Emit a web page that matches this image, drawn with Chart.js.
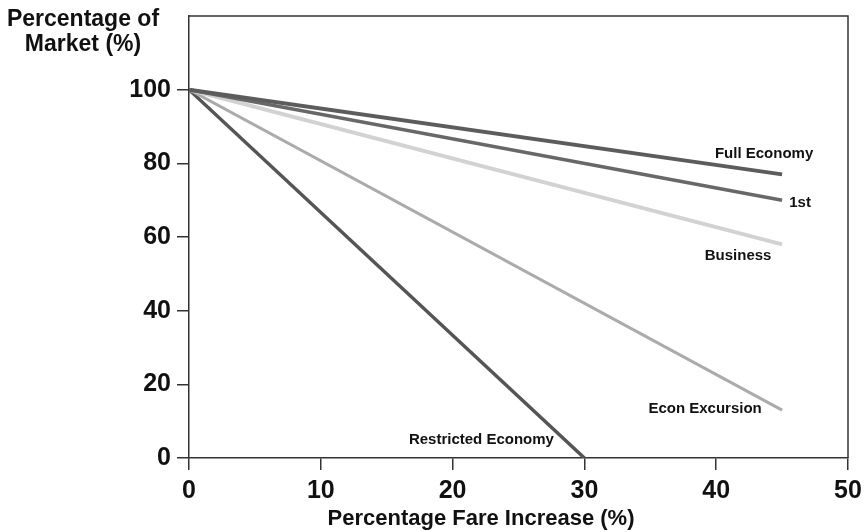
<!DOCTYPE html>
<html>
<head>
<meta charset="utf-8">
<script src="https://cdn.jsdelivr.net/npm/chart.js@4/dist/chart.umd.min.js"></script>
<style>
  html, body { margin:0; padding:0; background:#fff; }
  #wrap { width:864px; height:532px; position:relative; }
</style>
</head>
<body>
<div id="wrap"><canvas id="linegraph" width="864" height="532"></canvas></div>
<script>
// fare increase (%) at the ends of each line
var fareIncrease = [0, 45];
var restrictedFare = [0, 30];

// percentage of market kept
var fullEconomy   = [100, 77];
var firstClass    = [100, 70];
var business      = [100, 58];
var econExcursion = [100, 13];
var restricted    = [100, 0];

var seriesNames = ["Full Economy", "1st", "Business", "Econ Excursion", "Restricted Economy"];
var xTicks = [0, 10, 20, 30, 40, 50];
var yTicks = [0, 20, 40, 60, 80, 100];

function pts(xs, ys){
    var out = [];
    for (var i in xs){ out.push({x: xs[i], y: ys[i]}); }
    return out;
}

// where each label sits relative to the end of its line (pixels)
var labelOffsets = [[-18,-21],[18,3],[-44,11],[-77,-1],[-103,-18]];
var fontFam = "'Liberation Sans', Arial, sans-serif";

var seriesLabels = {
    id: 'seriesLabels',
    beforeDatasetsDraw: function(chart){
        // top and right sides of the frame
        var a = chart.chartArea, ctx = chart.ctx;
        ctx.save();
        ctx.strokeStyle = "#333";
        ctx.lineWidth = 1.5;
        ctx.beginPath();
        ctx.moveTo(a.left, a.top);
        ctx.lineTo(a.right, a.top);
        ctx.lineTo(a.right, a.bottom);
        ctx.stroke();
        ctx.restore();
    },
    afterDatasetsDraw: function(chart){
        var ctx = chart.ctx;
        ctx.save();
        ctx.fillStyle = "#111";
        ctx.font = "bold 15px " + fontFam;
        ctx.textAlign = "center";
        ctx.textBaseline = "middle";
        chart.data.datasets.forEach(function(ds, i){
            var meta = chart.getDatasetMeta(i);
            var last = meta.data[meta.data.length - 1];
            ctx.fillText(ds.label, last.x + labelOffsets[i][0], last.y + labelOffsets[i][1]);
        });
        // axis titles
        ctx.font = "bold 23px " + fontFam;
        ctx.fillText("Percentage of", 83, 20);
        ctx.fillText("Market (%)", 83, 45);
        ctx.font = "bold 22px " + fontFam;
        ctx.fillText("Percentage Fare Increase (%)", 481, 519);
        ctx.restore();
    }
};

var chartdata = {
    datasets:[
        { label: seriesNames[0], data: pts(fareIncrease, fullEconomy),   borderColor:"#5c5c5c", borderWidth:4 },
        { label: seriesNames[1], data: pts(fareIncrease, firstClass),    borderColor:"#686868", borderWidth:3.5 },
        { label: seriesNames[2], data: pts(fareIncrease, business),      borderColor:"#d2d2d2", borderWidth:4 },
        { label: seriesNames[3], data: pts(fareIncrease, econExcursion), borderColor:"#ababab", borderWidth:3 },
        { label: seriesNames[4], data: pts(restrictedFare, restricted),  borderColor:"#555555", borderWidth:3.5 }
    ]
};

var tickFont = { family: fontFam, size:25, weight:"bold" };

var ctx = document.getElementById("linegraph");
var line = new Chart(ctx, {
    type:'line',
    data: chartdata,
    options:{
        responsive:false,
        animation:false,
        layout:{ padding:{ top:16, right:16, left:0, bottom:0 } },
        elements:{ point:{ radius:0 }, line:{ tension:0, fill:false } },
        plugins:{ legend:{ display:false }, tooltip:{ enabled:false } },
        scales:{
            x:{
                type:'linear', min:0, max:50,
                afterBuildTicks: function(s){ s.ticks = xTicks.map(function(v){ return {value:v}; }); },
                afterFit: function(s){ s.height = 74; s.paddingLeft = 0; s.paddingRight = 0; },
                grid:{ drawOnChartArea:false, drawTicks:true, tickLength:12, color:"#333", lineWidth:1.5 },
                border:{ color:"#333", width:1.5 },
                ticks:{ color:"#111", font:tickFont, padding:6, maxRotation:0 }
            },
            y:{
                type:'linear', min:0, max:120,
                afterBuildTicks: function(s){ s.ticks = yTicks.map(function(v){ return {value:v}; }); },
                afterFit: function(s){ s.width = 189; s.paddingTop = 0; s.paddingBottom = 0; },
                grid:{ drawOnChartArea:false, drawTicks:true, tickLength:12, color:"#333", lineWidth:1.5 },
                border:{ color:"#333", width:1.5 },
                ticks:{ color:"#111", font:tickFont, padding:6 }
            }
        }
    },
    plugins:[seriesLabels]
});
</script>
</body>
</html>
